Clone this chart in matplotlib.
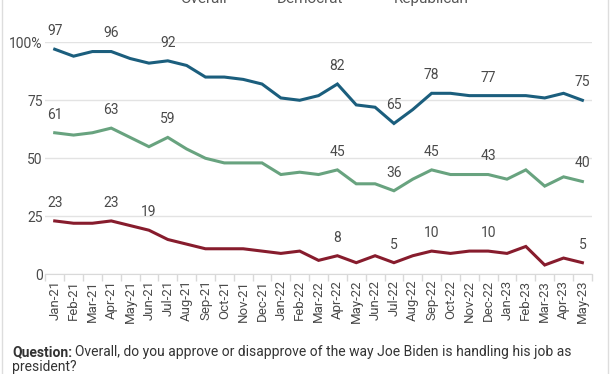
import matplotlib
matplotlib.use("Agg")
from matplotlib import pyplot as plt
from matplotlib.lines import Line2D

#data######################################################################
months = ["Jan-21", "Feb-21", "Mar-21", "Apr-21", "May-21", "Jun-21", "Jul-21",
          "Aug-21", "Sep-21", "Oct-21", "Nov-21", "Dec-21", "Jan-22", "Feb-22",
          "Mar-22", "Apr-22", "May-22", "Jun-22", "Jul-22", "Aug-22", "Sep-22",
          "Oct-22", "Nov-22", "Dec-22", "Jan-23", "Feb-23", "Mar-23", "Apr-23",
          "May-23"]
democrat = [97, 94, 96, 96, 93, 91, 92, 90, 85, 85, 84, 82, 76, 75, 77, 82, 73,
            72, 65, 71, 78, 78, 77, 77, 77, 77, 76, 78, 75]
overall = [61, 60, 61, 63, 59, 55, 59, 54, 50, 48, 48, 48, 43, 44, 43, 45, 39,
           39, 36, 41, 45, 43, 43, 43, 41, 45, 38, 42, 40]
republican = [23, 22, 22, 23, 21, 19, 15, 13, 11, 11, 11, 10, 9, 10, 6, 8, 5,
              8, 5, 8, 10, 9, 10, 10, 9, 12, 4, 7, 5]
# which points get a value label
dem_labels = ["Jan-21", "Apr-21", "Jul-21", "Apr-22", "Jul-22", "Sep-22", "Dec-22", "May-23"]
all_labels = ["Jan-21", "Apr-21", "Jul-21", "Apr-22", "Jul-22", "Sep-22", "Dec-22", "May-23"]
rep_labels = ["Jan-21", "Apr-21", "Jun-21", "Apr-22", "Jul-22", "Sep-22", "Dec-22", "May-23"]
yticks = [0, 25, 50, 75, 100]
ytick_labels = ["0", "25", "50", "75", "100%"]

#style#####################################################################
plt.rcParams["font.family"] = ["Roboto", "DejaVu Sans"]
c_dem = "#1b5e7d"
c_all = "#68a37f"
c_rep = "#871c2d"
c_txt = "#4a4a4a"

fig = plt.figure(figsize=(6.12, 3.74), dpi=100)
ax = fig.add_axes([0.074, 0.2666, 0.893, 0.6204])

x = list(range(len(months)))
for vals, col, labs in [(democrat, c_dem, dem_labels),
                        (overall, c_all, all_labels),
                        (republican, c_rep, rep_labels)]:
    ax.plot(x, vals, color=col, lw=2.2, solid_joinstyle="miter", zorder=3)
    for m in labs:
        i = months.index(m)
        ax.annotate(str(vals[i]), (i, vals[i]), xytext=(0, 8), textcoords="offset points",
                    ha="center", va="bottom", fontsize=10, color=c_txt, clip_on=False)

ax.set_xlim(-0.5, len(months) - 0.5)
ax.set_ylim(0, 100)
ax.set_yticks(yticks)
ax.set_yticklabels(ytick_labels)
ax.yaxis.grid(True, color="#e3e3e3", lw=1)
ax.set_axisbelow(True)
ax.tick_params(axis="y", length=0, pad=2, labelsize=10, labelcolor=c_txt)

ax.set_xticks(x)
ax.set_xticklabels(months, rotation=90)
ax.set_xticks([i - 0.5 for i in range(len(months) + 1)], minor=True)
ax.tick_params(axis="x", which="major", length=0, pad=4, labelsize=9.5, labelcolor=c_txt)
ax.tick_params(axis="x", which="minor", length=5, color="#d9d9d9", width=1)

for s in ["top", "right", "left"]:
    ax.spines[s].set_visible(False)
ax.spines["bottom"].set_color("#d9d9d9")

#legend (cut off at the top) #############################################
for name, xpos in [("Overall", 180), ("Democrat", 277), ("Republican", 394)]:
    fig.text(xpos / 612, 1 - 3 / 374, name, ha="left", va="baseline",
             fontsize=11, color="#555555")

#question text#############################################################
t1 = fig.text(12 / 612, 1 - 356 / 374, "Question:", fontweight="bold",
              fontsize=10, color="#333333", va="baseline")
fig.canvas.draw()
bb = t1.get_window_extent()
fig.text(bb.x1 / 612 + 3 / 612, 1 - 356 / 374,
         "Overall, do you approve or disapprove of the way Joe Biden is handling his job as",
         fontsize=10, color="#333333", va="baseline")
fig.text(12 / 612, 1 - 371 / 374, "president?", fontsize=10, color="#333333", va="baseline")

# panel border lines
fig.add_artist(Line2D([1.5 / 612, 1.5 / 612], [0, 1], color="#dddddd", lw=1))
fig.add_artist(Line2D([607.5 / 612, 607.5 / 612], [0, 1], color="#dddddd", lw=1))

plt.savefig("out.png", dpi=100)
